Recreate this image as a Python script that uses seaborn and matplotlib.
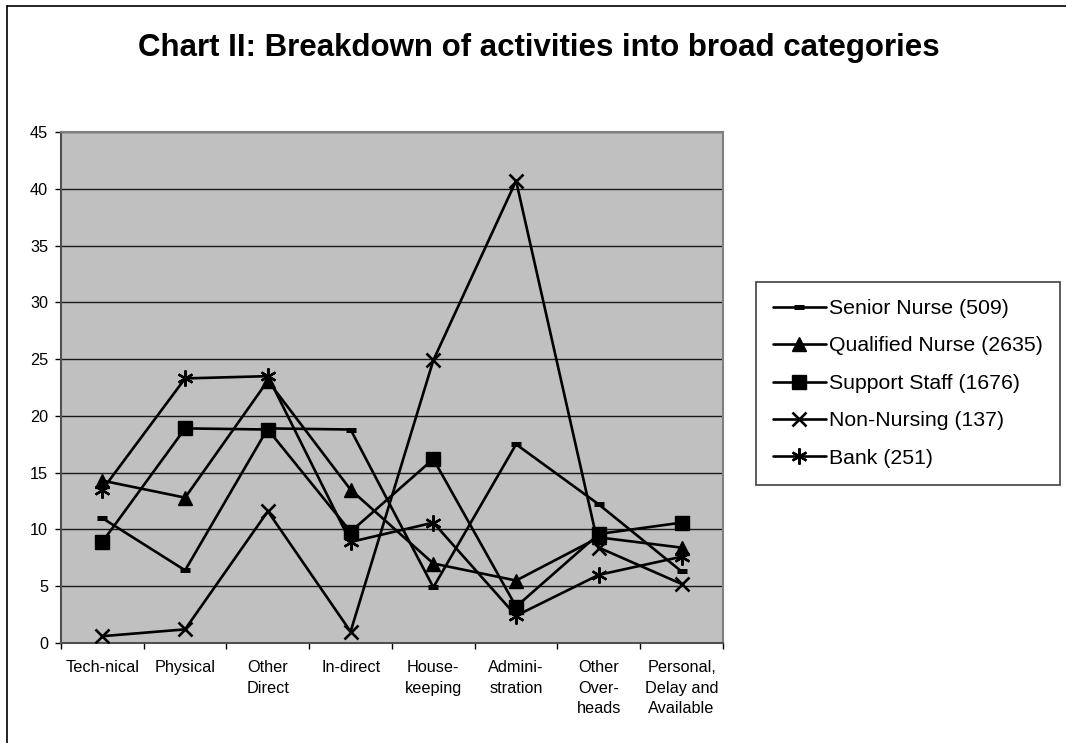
import matplotlib
matplotlib.use('Agg')
import matplotlib.pyplot as plt
from matplotlib.lines import Line2D
import seaborn as sns
import pandas as pd
import numpy as np

# Datos
categorias = ['Tech-nical', 'Physical', 'Other\nDirect', 'In-direct', 'House-\nkeeping',
              'Admini-\nstration', 'Other\nOver-\nheads', 'Personal,\nDelay and\nAvailable']
series = ['Senior Nurse (509)', 'Qualified Nurse (2635)', 'Support Staff (1676)',
          'Non-Nursing (137)', 'Bank (251)']
senior_nurse = [11.0, 6.4, 18.9, 18.8, 4.9, 17.5, 12.2, 6.3]
qualified_nurse = [14.3, 12.8, 23.1, 13.5, 7.0, 5.5, 9.3, 8.4]
support_staff = [8.9, 18.9, 18.8, 9.8, 16.2, 3.2, 9.6, 10.6]
non_nursing = [0.6, 1.2, 11.6, 1.0, 24.9, 40.7, 8.4, 5.2]
bank = [13.5, 23.3, 23.5, 8.9, 10.6, 2.4, 6.0, 7.6]

valores = [senior_nurse, qualified_nurse, support_staff, non_nursing, bank]

# Estilo de marcador por serie: (marcador, tamaño, grosor del borde)
marcadores = {
    series[0]: ('_', 6.5, 3.6),
    series[1]: ('^', 10.5, 1.0),
    series[2]: ('s', 10.5, 1.0),
    series[3]: ('x', 10.5, 1.9),
    series[4]: ((6, 2, 0), 11.5, 1.7),
}
ANCHO = 1.9  # grosor de las líneas

df = pd.concat([pd.DataFrame({'pos': np.arange(len(categorias)), 'valor': v, 'serie': s})
                for s, v in zip(series, valores)], ignore_index=True)

sns.set_theme(style='white')
plt.rcParams['font.family'] = ['Liberation Sans', 'DejaVu Sans']
plt.rcParams['text.color'] = 'black'
plt.rcParams['xtick.color'] = 'black'
plt.rcParams['ytick.color'] = 'black'

fig = plt.figure(figsize=(10.66, 7.43), dpi=100)
ax = fig.add_axes([0.0572, 0.1346, 0.6210, 0.6877])
ax.set_facecolor('#C0C0C0')

for s in series:
    m, ms, mew = marcadores[s]
    sns.lineplot(data=df[df['serie'] == s], x='pos', y='valor', ax=ax, color='black',
                 linewidth=ANCHO, marker=m, markersize=ms, markeredgewidth=mew,
                 markeredgecolor='black', markerfacecolor='black', zorder=3)

ax.set_xlim(-0.5, len(categorias) - 0.5)
ax.set_ylim(0, 45)
ax.set_yticks(np.arange(0, 46, 5))
ax.yaxis.grid(True, color='#1a1a1a', linewidth=1.0)
ax.set_axisbelow(True)
ax.set_xlabel('')
ax.set_ylabel('')

# Etiquetas centradas en cada categoría, marcas en los límites (estilo Excel)
ax.set_xticks(np.arange(len(categorias)))
ax.set_xticklabels(categorias, fontsize=11.7, linespacing=1.49, va='top')
ax.set_xticks(np.arange(-0.5, len(categorias)), minor=True)
ax.tick_params(axis='x', which='major', length=0, pad=12)
ax.tick_params(axis='x', which='minor', length=4.3, width=1, color='black', direction='out', bottom=True)
ax.tick_params(axis='y', length=4.3, width=1, color='black', direction='out', left=True,
               labelsize=11.7, pad=5)

for lado in ['top', 'right']:
    ax.spines[lado].set_color('#808080')
    ax.spines[lado].set_linewidth(1.5)
for lado in ['left', 'bottom']:
    ax.spines[lado].set_color('#505050')
    ax.spines[lado].set_linewidth(1.5)

# Leyenda con recuadro
handles = [Line2D([0], [0], color='black', linewidth=ANCHO, marker=marcadores[s][0],
                  markersize=marcadores[s][1], markeredgewidth=marcadores[s][2],
                  markeredgecolor='black', markerfacecolor='black') for s in series]
leg = fig.legend(handles, series, loc='upper left', bbox_to_anchor=(0.709, 0.6205),
                 fontsize=15.3, frameon=True, fancybox=False, framealpha=1,
                 edgecolor='#404040', borderaxespad=0, handlelength=2.5,
                 handletextpad=0.15, labelspacing=0.87, borderpad=0.8)
leg.get_frame().set_linewidth(1.2)

fig.text(0.505, 0.935, 'Chart II: Breakdown of activities into broad categories',
         ha='center', va='center', fontsize=22.5, fontweight='bold')

# Marco exterior del gráfico
fig.add_artist(Line2D([0.0066, 0.0066], [0.0, 0.992], color='black', linewidth=1.2,
                      transform=fig.transFigure))
fig.add_artist(Line2D([0.0066, 1.0], [0.992, 0.992], color='black', linewidth=1.2,
                      transform=fig.transFigure))

fig.savefig('out.png', dpi=100)
